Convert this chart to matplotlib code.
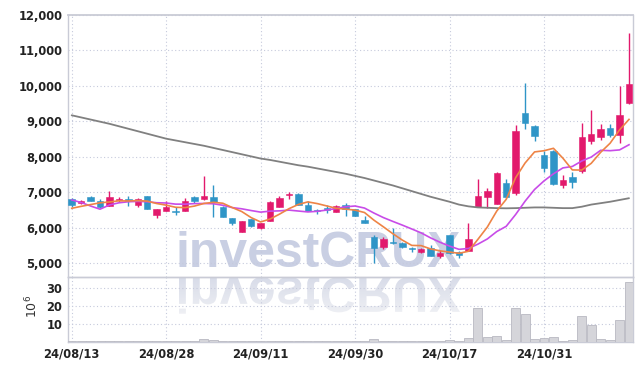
import matplotlib
matplotlib.use('Agg')
import matplotlib.pyplot as plt
import numpy as np
from matplotlib.textpath import TextPath
from matplotlib.font_manager import FontProperties
from matplotlib import font_manager as fm
from matplotlib.patches import PathPatch
from matplotlib.transforms import Affine2D
from matplotlib.ticker import FuncFormatter
from matplotlib.colors import LinearSegmentedColormap

# ---------------- data ----------------
dates = ['24/08/13', '24/08/14', '24/08/16', '24/08/19', '24/08/20', '24/08/21', '24/08/22', '24/08/23',
         '24/08/26', '24/08/27', '24/08/28', '24/08/29', '24/08/30', '24/09/02', '24/09/03', '24/09/04',
         '24/09/05', '24/09/06', '24/09/09', '24/09/10', '24/09/11', '24/09/12', '24/09/13', '24/09/19',
         '24/09/20', '24/09/23', '24/09/24', '24/09/25', '24/09/26', '24/09/27', '24/09/30', '24/10/02',
         '24/10/04', '24/10/07', '24/10/08', '24/10/10', '24/10/11', '24/10/14', '24/10/15', '24/10/16',
         '24/10/17', '24/10/18', '24/10/21', '24/10/22', '24/10/23', '24/10/24', '24/10/25', '24/10/28',
         '24/10/29', '24/10/30', '24/10/31', '24/11/01', '24/11/04', '24/11/05', '24/11/06', '24/11/07',
         '24/11/08', '24/11/11', '24/11/12', '24/11/13']

opens = [6800, 6700, 6870, 6750, 6610, 6770, 6800, 6640, 6880, 6370,
         6480, 6470, 6480, 6870, 6800, 6870, 6590, 6260, 5890, 6240,
         5980, 6200, 6590, 6910, 6960, 6640, 6510, 6560, 6450, 6640,
         6520, 6210, 5740, 5460, 5600, 5580, 5410, 5310, 5420, 5210,
         5790, 5300, 5350, 6590, 6870, 6670, 7250, 6970, 9240, 8880,
         8050, 8160, 7200, 7440, 7610, 8450, 8550, 8800, 8610, 9530]
highs = [6830, 6790, 6890, 6810, 7040, 6850, 6900, 6830, 6890, 6530,
         6750, 6580, 6830, 6890, 7470, 7200, 6600, 6280, 6200, 6250,
         6130, 6740, 6890, 7010, 6970, 6750, 6520, 6640, 6630, 6700,
         6530, 6330, 5790, 5740, 5980, 5600, 5450, 5430, 5510, 5380,
         5800, 5330, 6120, 7360, 7110, 7560, 7370, 8900, 10070, 8890,
         8160, 8200, 7480, 7580, 8940, 9320, 8910, 8920, 10000, 11480]
lows = [6580, 6680, 6750, 6560, 6600, 6710, 6600, 6570, 6520, 6260,
        6470, 6360, 6470, 6700, 6790, 6310, 6300, 6070, 5880, 6030,
        5970, 6190, 6580, 6810, 6640, 6470, 6380, 6420, 6440, 6330,
        6330, 6130, 5010, 5390, 5540, 5420, 5300, 5290, 5200, 5140,
        5260, 5140, 5340, 6580, 6560, 6660, 6830, 6920, 8780, 8450,
        7570, 7210, 7130, 7130, 7530, 8360, 8470, 8570, 8380, 9490]
closes = [6640, 6760, 6760, 6590, 6870, 6800, 6740, 6800, 6530, 6530,
          6570, 6440, 6750, 6750, 6900, 6730, 6310, 6140, 6190, 6040,
          6120, 6720, 6830, 6960, 6640, 6480, 6480, 6500, 6620, 6530,
          6340, 6140, 5420, 5680, 5560, 5440, 5390, 5390, 5210, 5290,
          5270, 5220, 5670, 6890, 7030, 7530, 6870, 8730, 8960, 8590,
          7690, 7220, 7340, 7300, 8570, 8640, 8780, 8620, 9180, 10050]

ma5 = [6545, 6600, 6650, 6700, 6724, 6756, 6752, 6762, 6748, 6680,
       6634, 6574, 6564, 6608, 6682, 6714, 6688, 6566, 6454, 6282,
       6160, 6242, 6380, 6534, 6654, 6726, 6678, 6612, 6544, 6522,
       6494, 6426, 6210, 6022, 5828, 5648, 5498, 5492, 5398, 5344,
       5310, 5276, 5332, 5668, 6016, 6468, 6798, 7410, 7824, 8136,
       8170, 8238, 7960, 7628, 7624, 7814, 8126, 8382, 8758, 9054]
ma10 = [6780, 6710, 6610, 6520, 6640, 6700, 6730, 6740, 6730, 6702,
        6695, 6663, 6662, 6678, 6681, 6674, 6631, 6565, 6531, 6482,
        6437, 6465, 6473, 6494, 6468, 6443, 6460, 6496, 6539, 6588,
        6610, 6552, 6411, 6283, 6175, 6071, 5962, 5851, 5710, 5586,
        5479, 5387, 5412, 5533, 5680, 5889, 6037, 6371, 6746, 7076,
        7318, 7518, 7685, 7726, 7880, 7991, 8182, 8171, 8193, 8339]
ma_long = [9170, 9110, 9050, 8990, 8930, 8860, 8790, 8720, 8650, 8580,
           8510, 8460, 8410, 8360, 8310, 8250, 8190, 8130, 8070, 8010,
           7950, 7910, 7860, 7810, 7760, 7720, 7670, 7620, 7570, 7520,
           7460, 7400, 7330, 7260, 7190, 7110, 7030, 6950, 6870, 6800,
           6730, 6650, 6600, 6570, 6560, 6550, 6545, 6550, 6560, 6570,
           6570, 6560, 6550, 6550, 6590, 6650, 6690, 6730, 6780, 6830]
volume = [0.3, 0.2, 0.2, 0.2, 0.4, 0.2, 0.2, 0.2, 0.3, 0.3,
          0.2, 0.2, 0.3, 0.3, 1.4, 0.9, 0.4, 0.3, 0.3, 0.2,
          0.2, 0.5, 0.4, 0.3, 0.3, 0.2, 0.2, 0.2, 0.2, 0.2,
          0.2, 0.3, 1.2, 0.4, 0.4, 0.3, 0.2, 0.2, 0.3, 0.2,
          0.7, 0.3, 2.0, 19.1, 2.7, 3.3, 0.9, 19.1, 15.7, 1.4,
          2.0, 2.7, 0.5, 0.9, 14.2, 9.6, 1.4, 0.9, 12.3, 33.4]

price_ticks = [5000, 6000, 7000, 8000, 9000, 10000, 11000, 12000]
vol_ticks = [10, 20, 30]
watermark = 'investCRUX'

# ---------------- style ----------------
UP = '#e2196c'
DOWN = '#2f95c7'
GRID = '#c6cadc'
SPINE = '#c9cbd6'
TXT = '#222222'


def pick_condensed():
    best = None
    for f in fm.fontManager.ttflist:
        nm = f.name.lower()
        st = str(f.stretch).lower()
        cond = ('narrow' in nm) or ('condensed' in nm) or ('condensed' in st)
        if not cond or f.style != 'normal' or 'mono' in nm:
            continue
        w = f.weight
        if not isinstance(w, (int, float)):
            w = {'bold': 700, 'normal': 400, 'regular': 400, 'semibold': 600,
                 'medium': 500, 'light': 300}.get(str(w).lower(), 400)
        score = -abs(w - 650)
        if best is None or score > best[0]:
            best = (score, f.fname)
    return best[1] if best else None


cond_file = pick_condensed()
if cond_file:
    tick_fp = FontProperties(fname=cond_file, size=9.2)
    date_fp = FontProperties(fname=cond_file, size=9.2)
else:
    tick_fp = FontProperties(family='Liberation Sans', weight='bold', size=9.0)
    date_fp = FontProperties(family='Liberation Sans', weight='bold', size=9.0)

W, H = 642, 370
fig = plt.figure(figsize=(W / 100, H / 100), dpi=100)
fig.patch.set_facecolor('white')

L, R = 68.0, 632.5
T, MID, B = 15.0, 276.7, 341.5

# background axes in pixel coordinates for the watermark
bg = fig.add_axes([0, 0, 1, 1], zorder=-1)
bg.set_xlim(0, W)
bg.set_ylim(0, H)
bg.axis('off')

WM_COLOR = '#c9cfe3'
wm_fp = FontProperties(family='Liberation Sans', weight='bold')
tp = TextPath((0, 0), watermark, size=100, prop=wm_fp)
ext = tp.get_extents()
wx0, wx1 = 179.0, 461.0
wbase = 267.0
s = (wx1 - wx0) / ext.width
font_px = 100 * s
bg.text(wx0 - ext.x0 * s, H - wbase, watermark, fontproperties=wm_fp, fontsize=font_px * 0.72,
        color=WM_COLOR, ha='left', va='baseline')

# mirrored reflection (graphic effect)
ref_top = 277.0
ref_tr = Affine2D().translate(-ext.x0, -ext.y0).scale(s, -s).translate(wx0, H - ref_top)
ref_path = ref_tr.transform_path(tp)
ref_patch = PathPatch(ref_path, facecolor='none', edgecolor='none')
bg.add_patch(ref_patch)
grad = np.linspace(0, 1, 64).reshape(-1, 1)
cmap = LinearSegmentedColormap.from_list('fade', ['#f0f1f5', '#d7dbe8'])
hgt = ext.height * s
im = bg.imshow(grad, extent=[wx0 - 2, wx1 + 2, H - ref_top - hgt - 2, H - ref_top + 1],
               origin='lower', cmap=cmap, aspect='auto', interpolation='bilinear')
im.set_clip_path(ref_patch)

ax = fig.add_axes([L / W, 1 - MID / H, (R - L) / W, (MID - T) / H])
axv = fig.add_axes([L / W, 1 - B / H, (R - L) / W, (B - MID) / H], sharex=ax)
for a in (ax, axv):
    a.set_facecolor('none')

x = np.arange(len(dates))
o = np.array(opens); c = np.array(closes); hi = np.array(highs); lo = np.array(lows)
up = c >= o
cols = np.where(up, UP, DOWN)

# wicks
ax.vlines(x, lo, hi, colors=cols, linewidth=1.0, zorder=3)
# bodies
body_bottom = np.minimum(o, c)
body_h = np.maximum(np.abs(c - o), 30)
ax.bar(x, body_h, bottom=body_bottom, width=0.68, color=cols, edgecolor=cols, linewidth=0.4, zorder=4)

# moving averages
ax.plot(x, ma_long, color='#808080', lw=1.3, zorder=5, solid_capstyle='round')
ax.plot(x, ma10, color='#c84ce8', lw=1.2, zorder=5)
ax.plot(x, ma5, color='#ee8446', lw=1.2, zorder=6)

ax.set_xlim(-0.39, len(dates) - 1 + 0.37)
ax.set_ylim(4615, 12000)
ax.set_yticks(price_ticks)
ax.yaxis.set_major_formatter(FuncFormatter(lambda v, p: f'{v:,.0f}'))

tick_idx = list(range(0, len(dates), 10))
ax.set_xticks(tick_idx)

ax.grid(True, linestyle=(0, (1, 2.2)), color=GRID, linewidth=0.8, zorder=0)
ax.set_axisbelow(True)
ax.tick_params(axis='x', labelbottom=False, length=0)
ax.tick_params(axis='y', length=0, pad=4, labelcolor=TXT)
for lab in ax.get_yticklabels():
    lab.set_fontproperties(tick_fp)

# volume
axv.bar(x, volume, width=0.95, color='#d5d5da', edgecolor='#b9b9c2', linewidth=0.6, zorder=3)
axv.set_ylim(0, 36.6)
axv.set_yticks(vol_ticks)
axv.grid(True, linestyle=(0, (1, 2.2)), color=GRID, linewidth=0.8, zorder=0)
axv.set_axisbelow(True)
axv.set_xticks(tick_idx)
axv.set_xticklabels([dates[i] for i in tick_idx])
axv.tick_params(axis='y', length=0, pad=4, labelcolor=TXT)
axv.tick_params(axis='x', length=0, pad=4.5, labelcolor=TXT)
for lab in axv.get_yticklabels():
    lab.set_fontproperties(tick_fp)
for lab in axv.get_xticklabels():
    lab.set_fontproperties(date_fp)
fig.text(32 / W, 1 - 306 / H, r'10$^6$', rotation=90, ha='center', va='center',
         fontsize=9, color='#333333')

for a in (ax, axv):
    for sp in a.spines.values():
        sp.set_color(SPINE)
        sp.set_linewidth(1.0)
ax.spines['top'].set_linewidth(1.3)

fig.savefig('out.png', dpi=100, facecolor='white')
